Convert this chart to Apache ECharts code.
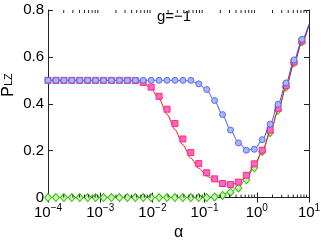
<!DOCTYPE html>
<html>
<head>
<meta charset="utf-8">
<script src="https://cdn.jsdelivr.net/npm/echarts@6/dist/echarts.min.js"></script>
<style>html,body{margin:0;padding:0;background:#fff}#c{width:327px;height:246px}</style>
</head>
<body>
<div id="c"></div>
<script>
// log10(alpha) of the simulation points
var xExp = [-4.000,-3.848,-3.696,-3.544,-3.392,-3.240,-3.088,-2.936,-2.784,-2.632,-2.480,-2.328,-2.176,-2.024,-1.872,-1.720,-1.568,-1.416,-1.264,-1.112,-0.960,-0.808,-0.656,-0.504,-0.352,-0.200,-0.048,0.104,0.256,0.408,0.560,0.712,0.864];
// log10(alpha) of the theory curves
var lineExp = xExp.concat([1.0]);

var blueMarkers = [0.5,0.5,0.5,0.5,0.5,0.5,0.5,0.5,0.5,0.5,0.5,0.5,0.5,0.5,0.5,0.5,0.5,0.5,0.500,0.485,0.461,0.414,0.354,0.288,0.233,0.202,0.206,0.247,0.313,0.398,0.489,0.587,0.675];
var redMarkers = [0.5,0.5,0.5,0.5,0.5,0.5,0.5,0.5,0.5,0.5,0.5,0.499,0.491,0.471,0.432,0.377,0.316,0.250,0.192,0.145,0.106,0.080,0.060,0.056,0.066,0.095,0.144,0.202,0.288,0.381,0.478,0.578,0.668];
var greenMarkers = [0,0,0,0,0,0,0,0,0,0,0,0,0,0,0,0,0,0,0,0,0,0.003,0.009,0.023,0.041,0.076,0.127,0.197,0.278,0.372,0.472,0.575,0.665];

var blueLine = [0.5,0.5,0.5,0.5,0.5,0.5,0.5,0.5,0.5,0.5,0.5,0.5,0.5,0.5,0.5,0.5,0.5,0.499,0.497,0.485,0.458,0.412,0.352,0.288,0.235,0.205,0.205,0.245,0.312,0.398,0.489,0.585,0.672,0.740];
var redLine = [0.5,0.5,0.5,0.5,0.5,0.5,0.5,0.5,0.5,0.5,0.5,0.498,0.488,0.465,0.420,0.355,0.290,0.225,0.168,0.125,0.093,0.072,0.060,0.056,0.064,0.090,0.138,0.198,0.280,0.370,0.470,0.570,0.660,0.735];
var greenLine = [0,0,0,0,0,0,0,0,0,0,0,0,0,0,0,0,0,0,0,0,0,0.004,0.012,0.026,0.046,0.080,0.130,0.195,0.275,0.372,0.472,0.572,0.664,0.735];

var yTicks = [0, 0.2, 0.4, 0.6, 0.8];
var xDecades = [-4, -3, -2, -1, 0, 1];
var minorMult = [2, 3, 4, 5, 6, 7, 8, 9];
var annotation = 'g=\u22121';

function pairs(ex, ys) { return ys.map(function (y, i) { return [Math.pow(10, ex[i]), y]; }); }
var minorVals = [];
xDecades.slice(0, -1).forEach(function (d) { minorMult.forEach(function (m) { minorVals.push([m * Math.pow(10, d), 0]); }); });

var FONT = '"Liberation Sans", Arial, Helvetica, sans-serif';
var chart = echarts.init(document.getElementById('c'), null, { renderer: 'canvas' });

var xCommon = {
  type: 'log', logBase: 10, min: 1e-4, max: 10, gridIndex: 0,
  axisLine: { show: true, lineStyle: { color: '#222', width: 1 } },
  axisTick: { show: true, inside: true, length: 5, lineStyle: { color: '#222' } },
  splitLine: { show: false }, minorTick: { show: false }
};
var yCommon = {
  type: 'value', min: 0, max: 0.8, interval: 0.2,
  axisLine: { show: true, lineStyle: { color: '#222', width: 1 } },
  axisTick: { show: true, inside: true, length: 5, lineStyle: { color: '#222' } },
  splitLine: { show: false }
};

chart.setOption({
  animation: false,
  backgroundColor: '#fff',
  grid: { left: 48, right: 18, top: 10, bottom: 37, containLabel: false },
  xAxis: [
    Object.assign({}, xCommon, {
      position: 'bottom',
      name: '\u03b1', nameLocation: 'middle', nameGap: 26,
      nameTextStyle: { fontFamily: FONT, fontSize: 16, color: '#000' },
      axisLabel: {
        margin: 6, color: '#000', fontFamily: FONT,
        formatter: function (v) {
          var e = Math.round(Math.log10(v));
          return '{b|10}{s|' + (e < 0 ? '\u2212' + (-e) : e) + '}';
        },
        rich: {
          b: { fontSize: 15, fontFamily: FONT, color: '#000' },
          s: { fontSize: 10, fontFamily: FONT, color: '#000', verticalAlign: 'top', padding: [0, 0, 8, 0] }
        }
      }
    }),
    Object.assign({}, xCommon, { position: 'top', axisLabel: { show: false } })
  ],
  yAxis: [
    Object.assign({}, yCommon, {
      position: 'left',
      axisLabel: {
        margin: 4, color: '#000', fontFamily: FONT, fontSize: 15,
        formatter: function (v) { return yTicks.indexOf(+v.toFixed(1)) >= 0 ? (v === 0 ? '0' : v.toFixed(1)) : ''; }
      }
    }),
    Object.assign({}, yCommon, { position: 'right', axisLabel: { show: false } })
  ],
  graphic: [
    {
      type: 'text', x: 17, y: 85, rotation: Math.PI / 2,
      style: {
        text: '{p|P}{s|LZ}', align: 'center', verticalAlign: 'bottom',
        rich: {
          p: { fontSize: 16, fontFamily: FONT, fill: '#000' },
          s: { fontSize: 11, fontFamily: FONT, fill: '#000', padding: [0, 0, 0, 0] }
        }
      }
    },
    {
      type: 'text', x: 157, y: 17,
      style: { text: annotation, fontSize: 15, fontFamily: FONT, fill: '#000', align: 'left', verticalAlign: 'middle' }
    }
  ],
  series: [
    {
      type: 'custom', xAxisIndex: 0, yAxisIndex: 0, silent: true, z: 10, clip: false,
      data: minorVals,
      renderItem: function (params, api) {
        var b = api.coord([api.value(0), 0]);
        var t = api.coord([api.value(0), 0.8]);
        return {
          type: 'group', children: [
            { type: 'line', shape: { x1: b[0], y1: b[1], x2: b[0], y2: b[1] - 3 }, style: { stroke: '#222', lineWidth: 1 } },
            { type: 'line', shape: { x1: t[0], y1: t[1], x2: t[0], y2: t[1] + 3 }, style: { stroke: '#222', lineWidth: 1 } }
          ]
        };
      }
    },
    { type: 'line', data: pairs(lineExp, greenLine), showSymbol: false, smooth: 0.3, smoothMonotone: 'x',
      lineStyle: { color: '#22b022', width: 1 }, z: 2, silent: true },
    { type: 'line', data: pairs(xExp, greenMarkers), symbol: 'diamond', symbolSize: [7, 8],
      lineStyle: { width: 0, opacity: 0 }, itemStyle: { color: '#c8f5a8', borderColor: '#33bb11', borderWidth: 1 }, z: 3, silent: true },
    { type: 'line', data: pairs(lineExp, redLine), showSymbol: false, smooth: 0.3, smoothMonotone: 'x',
      lineStyle: { color: '#ff1a1a', width: 1 }, z: 4, silent: true },
    { type: 'line', data: pairs(xExp, redMarkers), symbol: 'rect', symbolSize: 6,
      lineStyle: { width: 0, opacity: 0 }, itemStyle: { color: '#ff66cc', borderColor: '#ff2e6e', borderWidth: 1 }, z: 5, silent: true },
    { type: 'line', data: pairs(lineExp, blueLine), showSymbol: false, smooth: 0.3, smoothMonotone: 'x',
      lineStyle: { color: '#3f51f0', width: 1 }, z: 6, silent: true },
    { type: 'line', data: pairs(xExp, blueMarkers), symbol: 'circle', symbolSize: 6,
      lineStyle: { width: 0, opacity: 0 }, itemStyle: { color: '#a3b8ff', borderColor: '#5a6cf0', borderWidth: 1 }, z: 7, silent: true }
  ]
});
</script>
</body>
</html>
